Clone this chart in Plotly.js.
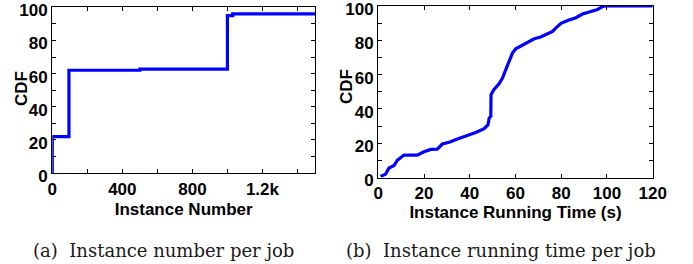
<!DOCTYPE html>
<html>
<head>
<meta charset="utf-8">
<script src="https://cdn.plot.ly/plotly-3.0.1.min.js"></script>
<style>
html,body{margin:0;padding:0;background:#fff;}
#chart{width:693px;height:264px;}
</style>
</head>
<body>
<div id="chart"></div>
<script>
// (a) Instance number per job — step CDF
const instNumX = [0, 0, 95, 500, 1000, 1030, 1500];
const instNumCDF = [0, 22, 62, 62.7, 95, 96, 96];
const xTicksA = [0, 200, 400, 600, 800, 1000, 1200, 1400];
const xTickTextA = ["0", "", "400", "", "800", "", "1.2k", ""];

// (b) Instance running time per job — CDF
const runTime = [1, 3.2, 4.7, 6.9, 8.3, 11.2, 17, 20, 23, 25.8, 28, 31, 34.6, 39, 42.6, 46.3, 48, 48.5, 49.2, 49.3, 50.6, 52.8, 54.3, 55.8, 57.2, 58.7, 60.1, 63, 66, 68.2, 71, 74, 76.2, 77.7, 79.9, 82.8, 86.4, 89.3, 92.3, 95.9, 98, 99.1, 120];
const runTimeCDF = [0.6, 2, 5.5, 7, 10, 13, 13, 15, 16.4, 16.5, 19.5, 20.5, 22.4, 24.4, 26.3, 28.5, 30.8, 34.7, 35.7, 48.3, 51.3, 54.6, 58, 63, 67.8, 72.7, 75, 77, 79, 80.9, 81.9, 84, 85.2, 87.3, 89.9, 91.6, 93.2, 95.3, 96.7, 98, 99.6, 100, 100];
const xTicksB = [0, 20, 40, 60, 80, 100, 120];

const yTicks = [0, 10, 20, 30, 40, 50, 60, 70, 80, 90, 100];
const yTickText = ["0", "", "20", "", "40", "", "60", "", "80", "", "100"];

const axisFont = {family: "Liberation Sans, Arial, sans-serif", size: 17, color: "#000", weight: "bold"};
const titleFont = {family: "Liberation Sans, Arial, sans-serif", size: 17, color: "#000", weight: "bold"};
const capFont = {family: "DejaVu Serif, serif", size: 18, color: "#1a1a1a"};

const common = {
  showline: true, mirror: "ticks", linecolor: "#000", linewidth: 1.3,
  ticks: "inside", ticklen: 4, tickwidth: 1, tickcolor: "#000",
  showgrid: false, zeroline: false, tickfont: axisFont, fixedrange: true,
  ticklabeloverflow: "allow"
};

const traces = [
  {x: instNumX, y: instNumCDF, type: "scatter", mode: "lines",
   line: {color: "#0000ff", width: 3.2, shape: "hv"}, xaxis: "x", yaxis: "y", hoverinfo: "skip"},
  {x: runTime, y: runTimeCDF, type: "scatter", mode: "lines",
   line: {color: "#0000ff", width: 3.2}, xaxis: "x2", yaxis: "y2", hoverinfo: "skip"}
];

const layout = {
  width: 693, height: 264,
  margin: {l: 0, r: 0, t: 0, b: 0},
  paper_bgcolor: "#fff", plot_bgcolor: "#fff",
  showlegend: false,
  xaxis: Object.assign({}, common, {
    domain: [0.07547, 0.45455], range: [0, 1500], anchor: "y",
    tickmode: "array", tickvals: xTicksA, ticktext: xTickTextA,
    title: {text: "Instance Number", font: titleFont, standoff: 5}
  }),
  yaxis: Object.assign({}, common, {
    domain: [0.34470, 0.97235], range: [0, 100], anchor: "x",
    tickmode: "array", tickvals: yTicks, ticktext: yTickText, ticklabelshift: 3
  }),
  xaxis2: Object.assign({}, common, {
    domain: [0.54589, 0.94185], range: [0, 120], anchor: "y2",
    tickmode: "array", tickvals: xTicksB,
    title: {text: "Instance Running Time (s)", font: titleFont, standoff: 2}
  }),
  yaxis2: Object.assign({}, common, {
    domain: [0.32765, 0.97727], range: [0, 100], anchor: "x2",
    tickmode: "array", tickvals: yTicks, ticktext: yTickText, ticklabelshift: 3
  }),
  annotations: [
    {text: "CDF", textangle: -90, font: titleFont, showarrow: false,
     xref: "paper", yref: "paper", x: 21/693, y: (264-89)/264, xanchor: "center", yanchor: "middle"},
    {text: "CDF", textangle: -90, font: titleFont, showarrow: false,
     xref: "paper", yref: "paper", x: 346/693, y: (264-87)/264, xanchor: "center", yanchor: "middle"},
    {text: "(a)  Instance number per job", font: capFont, showarrow: false,
     xref: "paper", yref: "paper", x: 163.7/693, y: (264-250)/264, xanchor: "center", yanchor: "middle"},
    {text: "(b)  Instance running time per job", font: capFont, showarrow: false,
     xref: "paper", yref: "paper", x: 500.5/693, y: (264-250)/264, xanchor: "center", yanchor: "middle"}
  ]
};

Plotly.newPlot("chart", traces, layout, {displayModeBar: false, staticPlot: true});
</script>
</body>
</html>
